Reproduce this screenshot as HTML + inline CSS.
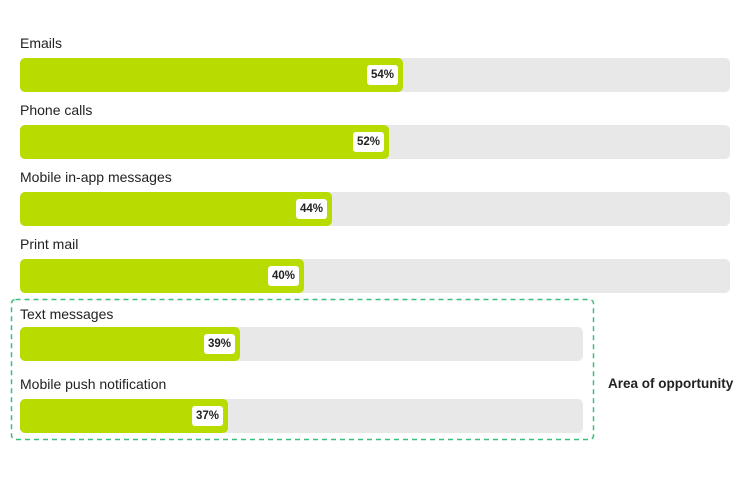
<!DOCTYPE html>
<html><head><style>
body{margin:0;width:750px;height:499px;background:#fff;position:relative;font-family:"Liberation Sans",sans-serif;overflow:hidden}
.l{position:absolute;left:20px;font-size:14px;color:#222;line-height:16px}
.t{position:absolute;left:20px;height:34px;background:#e8e8e8;border-radius:5px}
.f{position:absolute;left:0;top:0;height:34px;background:#b8dc00;border-radius:5px}
.b{position:absolute;right:5px;top:7px;height:20px;padding:0 4px;background:#fff;border-radius:3px;font-size:11.5px;font-weight:bold;line-height:20px;color:#222}
</style></head><body>
<div class="l" style="top:35px">Emails</div>
<div class="t" style="top:58px;width:710px"><div class="f" style="width:383px"><div class="b">54%</div></div></div>
<div class="l" style="top:102px">Phone calls</div>
<div class="t" style="top:125px;width:710px"><div class="f" style="width:369px"><div class="b">52%</div></div></div>
<div class="l" style="top:169px">Mobile in-app messages</div>
<div class="t" style="top:192px;width:710px"><div class="f" style="width:312px"><div class="b">44%</div></div></div>
<div class="l" style="top:236px">Print mail</div>
<div class="t" style="top:259px;width:710px"><div class="f" style="width:284px"><div class="b">40%</div></div></div>
<svg style="position:absolute;left:0;top:0" width="750" height="499"><rect x="11.5" y="299.5" width="582" height="140" rx="4" fill="none" stroke="#3cbf7a" stroke-width="1.5" stroke-dasharray="5 4"/></svg>
<div class="l" style="top:306px">Text messages</div>
<div class="t" style="top:327px;width:563px"><div class="f" style="width:220px"><div class="b">39%</div></div></div>
<div class="l" style="top:376px">Mobile push notification</div>
<div class="t" style="top:399px;width:563px"><div class="f" style="width:208px"><div class="b">37%</div></div></div>
<div style="position:absolute;left:608px;top:376px;font-size:13.5px;font-weight:bold;color:#222;line-height:16px">Area of opportunity</div>
</body></html>
